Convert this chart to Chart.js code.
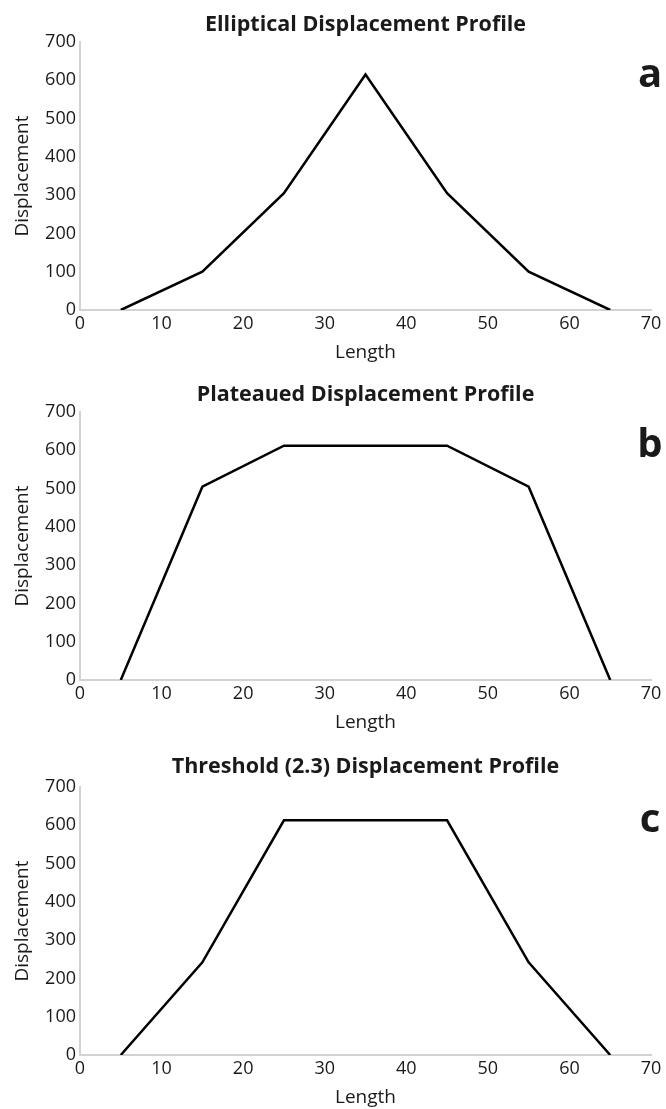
<!DOCTYPE html>
<html>
<head>
<meta charset="utf-8">
<script src="https://cdn.jsdelivr.net/npm/chart.js@4.4.1/dist/chart.umd.min.js"></script>
<style>
  html, body { margin: 0; padding: 0; background: #fff; overflow: hidden; }
  .panel { position: absolute; left: 0; width: 666px; height: 370px; }
</style>
</head>
<body>
<div class="panel" style="top:0"><canvas id="chartA" width="666" height="370"></canvas></div>
<div class="panel" style="top:370px"><canvas id="chartB" width="666" height="370"></canvas></div>
<div class="panel" style="top:745px"><canvas id="chartC" width="666" height="370"></canvas></div>
<script>
// Displacement profiles along a fault length
const lengths = [5, 15, 25, 35, 45, 55, 65];
const elliptical = [0, 100, 305, 615, 305, 100, 0];
const plateaued = [0, 505, 612, 612, 612, 505, 0];
const threshold = [0, 242, 613, 613, 613, 242, 0];

const xTickValues = [0, 10, 20, 30, 40, 50, 60, 70];
const yTickValues = [0, 100, 200, 300, 400, 500, 600, 700];

const textColor = '#1a1a1a';
const axisColor = '#d2d2d2';
const titleSize = 21.5;

// draws the panel letter (a, b, c) at the top right
const panelLetter = {
    id: 'panelLetter',
    afterDraw(chart, args, opts) {
        const ctx = chart.ctx;
        ctx.save();
        ctx.font = 'bold 40px "Open Sans"';
        ctx.fillStyle = textColor;
        ctx.textAlign = 'center';
        ctx.textBaseline = 'alphabetic';
        ctx.fillText(opts.text, 650, 87);
        ctx.restore();
    }
};

function makeChart(id, title, letter, values, titleTop) {
    const ctx = document.getElementById(id).getContext('2d');
    return new Chart(ctx, {
        type: 'line',
        data: {
            datasets: [{
                data: lengths.map((x, i) => ({ x: x, y: values[i] })),
                borderColor: '#000',
                borderWidth: 2.5,
                pointRadius: 0,
                tension: 0,
                fill: false
            }]
        },
        options: {
            responsive: false,
            animation: false,
            layout: { padding: { left: 0, right: 15, top: 0, bottom: 0 } },
            plugins: {
                legend: { display: false },
                tooltip: { enabled: false },
                title: {
                    display: true,
                    text: title,
                    fullSize: false,
                    color: textColor,
                    font: { family: 'Open Sans', size: titleSize, weight: 'bold', lineHeight: 1.2 },
                    padding: { top: titleTop, bottom: 42 - titleTop - titleSize * 1.2 }
                },
                panelLetter: { text: letter }
            },
            scales: {
                x: {
                    type: 'linear',
                    min: 0,
                    max: 70,
                    afterBuildTicks: s => { s.ticks = xTickValues.map(v => ({ value: v })); },
                    afterFit: s => { s.height = 60; },
                    grid: { display: false, drawTicks: false },
                    border: { display: true, color: axisColor, width: 2 },
                    ticks: { color: textColor, padding: 3, font: { family: 'Open Sans', size: 18 } },
                    title: {
                        display: true,
                        text: 'Length',
                        color: textColor,
                        font: { family: 'Open Sans', size: 19, lineHeight: 1.2 },
                        padding: { top: 0, bottom: 6 }
                    }
                },
                y: {
                    min: 0,
                    max: 700,
                    afterBuildTicks: s => { s.ticks = yTickValues.map(v => ({ value: v })); },
                    afterFit: s => { s.width = 80; },
                    grid: { display: false, drawTicks: false },
                    border: { display: true, color: axisColor, width: 2 },
                    ticks: { color: textColor, padding: 4, font: { family: 'Open Sans', size: 18 } },
                    title: {
                        display: true,
                        text: 'Displacement',
                        color: textColor,
                        font: { family: 'Open Sans', size: 19, lineHeight: 1.2 },
                        padding: { top: 11, bottom: 0 }
                    }
                }
            }
        },
        plugins: [panelLetter]
    });
}

makeChart('chartA', 'Elliptical Displacement Profile', 'a', elliptical, 12);
makeChart('chartB', 'Plateaued Displacement Profile', 'b', plateaued, 12);
makeChart('chartC', 'Threshold (2.3) Displacement Profile', 'c', threshold, 9);
</script>
</body>
</html>
